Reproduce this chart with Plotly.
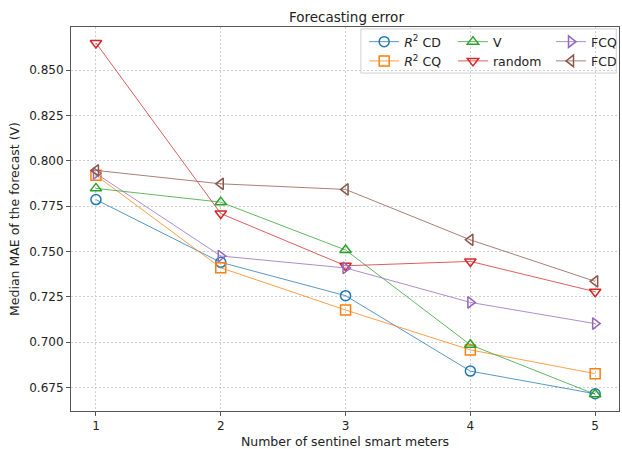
import plotly.graph_objects as go

x_vals = [1, 2, 3, 4, 5]
r2_cd = [0.7786, 0.7440, 0.7256, 0.6840, 0.6715]
r2_cq = [0.7920, 0.7410, 0.7177, 0.6957, 0.6826]
v_vals = [0.7848, 0.7772, 0.7508, 0.6985, 0.6712]
random_vals = [0.8650, 0.7709, 0.7421, 0.7445, 0.7278]
fcq = [0.7930, 0.7475, 0.7409, 0.7219, 0.7102]
fcd = [0.7947, 0.7873, 0.7842, 0.7564, 0.7335]

series = [
    ("<i>R</i><sup>2</sup> CD", r2_cd, "#1f77b4", "circle-open", "legend"),
    ("<i>R</i><sup>2</sup> CQ", r2_cq, "#ff7f0e", "square-open", "legend"),
    ("V", v_vals, "#2ca02c", "triangle-up-open", "legend2"),
    ("random", random_vals, "#d62728", "triangle-down-open", "legend2"),
    ("FCQ", fcq, "#9467bd", "triangle-right-open", "legend3"),
    ("FCD", fcd, "#8c564b", "triangle-left-open", "legend3"),
]

def rgba(hexc, a):
    h = hexc.lstrip("#")
    return "rgba(%d,%d,%d,%s)" % (int(h[0:2], 16), int(h[2:4], 16), int(h[4:6], 16), a)

fig = go.Figure()
for name, vals, color, sym, leg in series:
    fig.add_trace(go.Scatter(
        x=x_vals, y=vals, name=name, mode="lines+markers",
        line=dict(color=rgba(color, 0.75), width=1),
        marker=dict(symbol=sym, size=10, color=color, line=dict(width=1.5, color=color)),
        legend=leg,
    ))

font = dict(family="DejaVu Sans", size=12, color="#222")
legbase = dict(bgcolor="rgba(0,0,0,0)", borderwidth=0, font=dict(family="DejaVu Sans", size=12.5, color="#222"),
               yanchor="top", y=1.0, xanchor="left", tracegroupgap=0, itemwidth=30)

fig.update_layout(
    width=622, height=449,
    margin=dict(l=71, r=0, t=27, b=38),
    paper_bgcolor="white", plot_bgcolor="white",
    font=font,
    title=dict(text="Forecasting error", x=0.557, xanchor="center", y=0.962, yanchor="middle",
               font=dict(family="DejaVu Sans", size=13.5, color="#222")),
    xaxis=dict(range=[0.8, 5.191], tickvals=x_vals, ticktext=[str(v) for v in x_vals],
               showgrid=True, gridcolor="#cfcfcf", griddash="2px,2px", gridwidth=1,
               showline=True, linecolor="#555", linewidth=1, mirror=True,
               ticks="outside", ticklen=4, tickcolor="#555", zeroline=False,
               title=dict(text="Number of sentinel smart meters", standoff=6,
                          font=dict(family="DejaVu Sans", size=12.5, color="#222"))),
    yaxis=dict(range=[0.662, 0.8738], tickvals=[0.675, 0.700, 0.725, 0.750, 0.775, 0.800, 0.825, 0.850],
               tickformat=".3f",
               showgrid=True, gridcolor="#cfcfcf", griddash="2px,2px", gridwidth=1,
               showline=True, linecolor="#555", linewidth=1, mirror=True,
               ticks="outside", ticklen=4, tickcolor="#555", zeroline=False,
               title=dict(text="Median MAE of the forecast (V)", standoff=6,
                          font=dict(family="DejaVu Sans", size=12.5, color="#222"))),
    legend=dict(x=0.535, **legbase),
    legend2=dict(x=0.697, **legbase),
    legend3=dict(x=0.876, **legbase),
    shapes=[dict(type="rect", xref="paper", yref="paper", x0=0.529, x1=0.995, y0=0.88, y1=0.995,
                 line=dict(color="#d0d0d0", width=1), fillcolor="rgba(255,255,255,0.85)", layer="between")],
)

fig.write_html("out.html", config={"displayModeBar": False},
               post_script="document.body.style.margin='0px';document.body.style.overflow='hidden';")
